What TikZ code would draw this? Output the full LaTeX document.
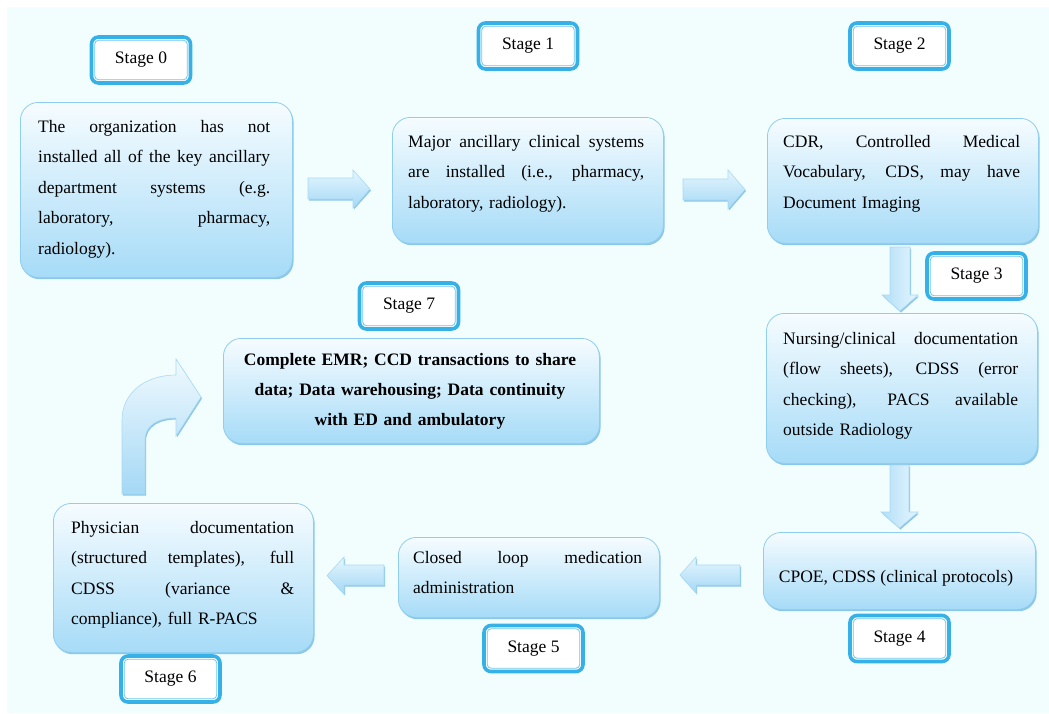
\documentclass[tikz,border=0pt]{standalone}
\usepackage{fontspec}
\setmainfont{Liberation Serif}
\usetikzlibrary{calc,shadows}
\definecolor{bgc}{HTML}{F2FDFE}
\definecolor{boxtop}{HTML}{F6FCFF}
\definecolor{boxbot}{HTML}{A6DBF7}
\definecolor{boxline}{HTML}{8FCEEE}
\definecolor{shadowc}{HTML}{7FC2E6}
\definecolor{stageblue}{HTML}{36B1E8}
\definecolor{stagelite}{HTML}{6CC6EE}
\definecolor{arrtop}{HTML}{E6F6FE}
\definecolor{arrbot}{HTML}{A4D8F5}
\definecolor{arrline}{HTML}{A9DAF3}
\newcommand\jl[1]{\leavevmode\hbox to \hsize{\spaceskip=0.25em plus 1fill\relax #1}\\}
\newcommand\stagenode[3]{%
  \node[stagebox] (#1) at (#2) {#3};
  \draw[stageinner] ([xshift=5pt,yshift=5pt]#1.south west) rectangle ([xshift=-5pt,yshift=-5pt]#1.north east);}
\begin{document}
\begin{tikzpicture}[x=1pt,y=-1pt,
  every node/.style={inner sep=0pt},
  infobox/.style={rectangle, rounded corners=18pt, draw=boxline, line width=0.8pt,
    top color=boxtop, bottom color=boxbot, anchor=north west,
    drop shadow={shadow xshift=1.2pt, shadow yshift=-1.8pt, fill=shadowc, opacity=0.9}},
  txt/.style={font=\fontsize{17.5}{30.6}\selectfont, anchor=base west},
  stagebox/.style={rectangle, rounded corners=7pt, draw=stageblue, line width=3.6pt,
    fill=white, minimum width=99pt, minimum height=46pt, font=\fontsize{17.5}{20}\selectfont},
  stageinner/.style={draw=stagelite, line width=0.8pt, rounded corners=4pt},
  harrow/.style={top color=arrtop, bottom color=arrbot, draw=arrline, line width=0.6pt,
    drop shadow={shadow xshift=1pt, shadow yshift=-1.5pt, fill=shadowc, opacity=0.9}},
  varrow/.style={left color=arrbot!85, right color=arrtop, draw=arrline, line width=0.6pt,
    drop shadow={shadow xshift=1pt, shadow yshift=-1.5pt, fill=shadowc, opacity=0.9}},
  carrow/.style={top color=arrtop!60!white, bottom color=arrbot, draw=arrline, line width=0.6pt,
    drop shadow={shadow xshift=1pt, shadow yshift=-1.5pt, fill=shadowc, opacity=0.9}}
]
\useasboundingbox (0,0) rectangle (1049,713);
\fill[white] (0,0) rectangle (1049,713);
\fill[bgc] (7,7) rectangle (1049,713);

% content boxes
\node[infobox, minimum width=272pt, minimum height=175pt] (b0) at (20,102) {};
\node[infobox, minimum width=271pt, minimum height=126pt] (b1) at (392,117) {};
\node[infobox, minimum width=271pt, minimum height=125pt] (b2) at (767,118) {};
\node[infobox, minimum width=271pt, minimum height=150pt] (b3) at (766,313) {};
\node[infobox, minimum width=272pt, minimum height=77pt] (b4) at (763,532) {};
\node[infobox, minimum width=261pt, minimum height=80pt] (b5) at (398,537) {};
\node[infobox, minimum width=260pt, minimum height=149pt] (b6) at (53,503) {};
\node[infobox, minimum width=376pt, minimum height=105pt] (b7) at (223,338) {};

% texts
\node[txt, text width=232pt] (t0) at (38,132) {\jl{The organization has not}\jl{installed all of the key ancillary}\jl{department systems (e.g.}\jl{laboratory, pharmacy,}radiology).};
\node[txt, text width=236pt] (t1) at (408,147) {\jl{Major ancillary clinical systems}\jl{are installed (i.e., pharmacy,}laboratory, radiology).};
\node[txt, text width=237pt] (t2) at (783,147) {\jl{CDR, Controlled Medical}\jl{Vocabulary, CDS, may have}Document Imaging};
\node[txt, text width=235pt] (t3) at (783,344) {\jl{Nursing/clinical documentation}\jl{(flow sheets), CDSS (error}\jl{checking), PACS available}outside Radiology};
\node[txt, anchor=base] (t4) at (896,582) {CPOE, CDSS (clinical protocols)};
\node[txt, text width=229pt] (t5) at (413,563) {\jl{Closed loop medication}administration};
\node[txt, text width=223pt] (t6) at (71,533) {\jl{Physician documentation}\jl{(structured templates), full}\jl{CDSS (variance \&}compliance), full R-PACS};
\node[txt, anchor=base, text width=370pt, align=center, font=\fontsize{17.5}{30}\selectfont\bfseries] (t7) at (410,365) {Complete EMR; CCD transactions to share\\data; Data warehousing; Data continuity\\with ED and ambulatory};

% stage labels
\stagenode{s0}{141,60}{Stage 0}
\stagenode{s1}{528,46}{Stage 1}
\stagenode{s2}{899.5,46}{Stage 2}
\stagenode{s3}{976.5,276}{Stage 3}
\stagenode{s7}{409,306}{Stage 7}
\stagenode{s4}{899.5,638.5}{Stage 4}
\stagenode{s5}{533.5,648.5}{Stage 5}
\stagenode{s6}{170.5,679}{Stage 6}

% block arrows
\path[harrow] (308,178) -- (353,178) -- (353,170) -- (370,189) -- (353,208) -- (353,199) -- (308,199) -- cycle;
\path[harrow] (683,179) -- (728,179) -- (728,170) -- (745,189.5) -- (728,209) -- (728,200) -- (683,200) -- cycle;
\path[varrow] (890,247) -- (910,247) -- (910,295) -- (918,295) -- (900,311) -- (882,295) -- (890,295) -- cycle;
\path[varrow] (890,465) -- (909,465) -- (909,512) -- (918,512) -- (899.5,528) -- (881,512) -- (890,512) -- cycle;
\path[harrow] (740,565) -- (740,585) -- (696,585) -- (696,593) -- (680,575) -- (696,557) -- (696,565) -- cycle;
\path[harrow] (384,565) -- (384,585) -- (344,585) -- (344,594) -- (327,575.5) -- (344,557) -- (344,565) -- cycle;
\path[carrow] (122,494) -- (122,420) .. controls (122,393) and (145,375) .. (176,375) -- (176,359) -- (201,397) -- (176,436) -- (176,418) .. controls (158,418) and (145,425) .. (145,440) -- (145,494) -- cycle;
\end{tikzpicture}
\end{document}
